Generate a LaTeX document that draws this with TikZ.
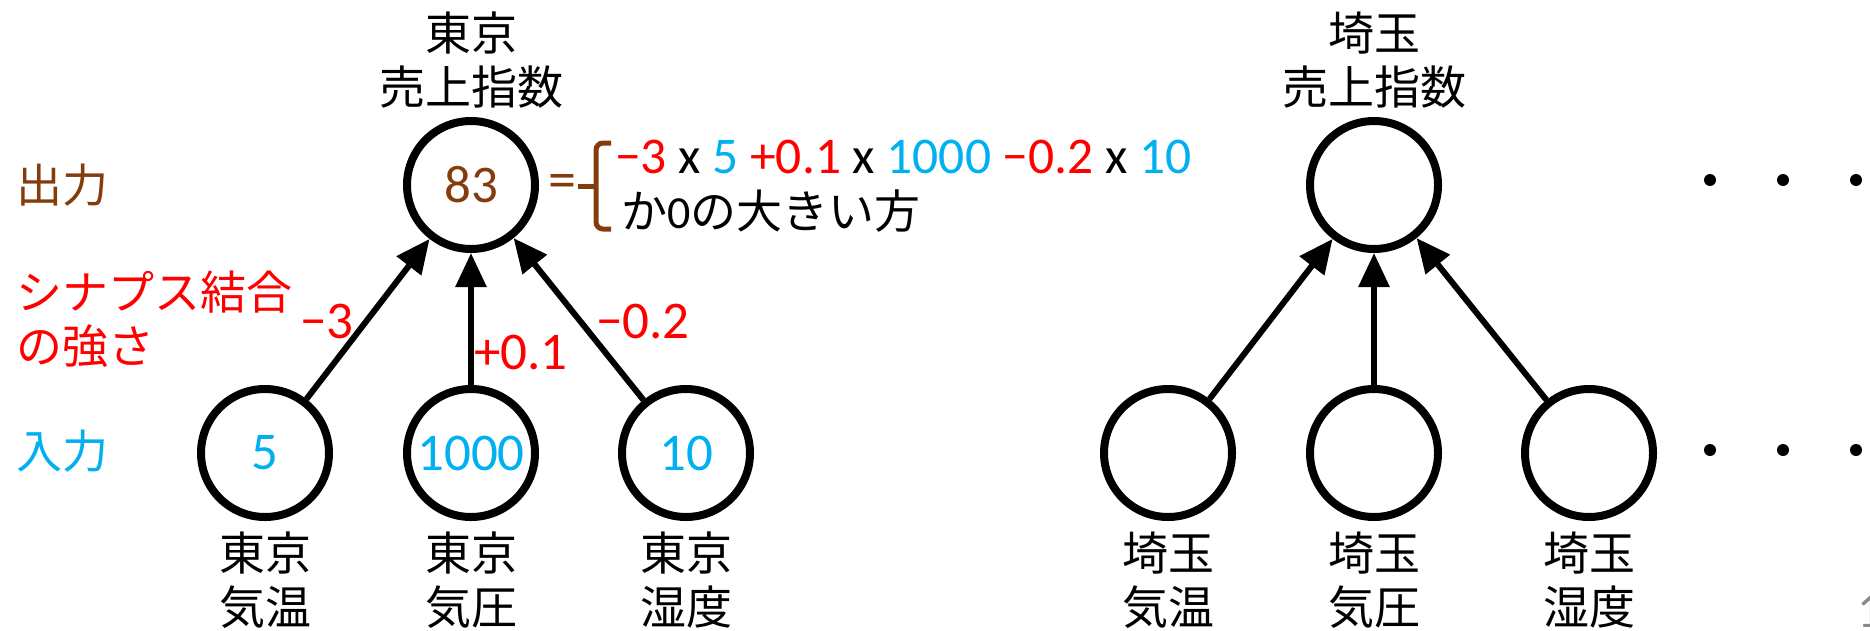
\documentclass[tikz,border=0pt]{standalone}
\usepackage{fontspec}
\setmainfont{Carlito}
\newfontfamily\jp{Noto Sans CJK JP}
\usetikzlibrary{arrows.meta}
\definecolor{brn}{RGB}{132,60,12}
\definecolor{cyn}{RGB}{0,176,240}
\definecolor{rd}{RGB}{255,0,0}
\definecolor{pgnum}{RGB}{137,137,137}
\begin{document}
\begin{tikzpicture}[x=1pt,y=-1pt,
  neuron/.style={circle,draw,line width=8pt,minimum size=128pt,inner sep=0pt,font=\fontsize{53}{60}\selectfont},
  syn/.style={line width=6pt,-{Triangle[length=34pt,width=30pt]}},
  jlab/.style={font=\jp\fontsize{46}{54}\selectfont,align=center,inner sep=0pt},
  wlab/.style={text=rd,font=\fontsize{53}{60}\selectfont,inner sep=0pt},
  eqtxt/.style={font=\fontsize{51.5}{60}\selectfont,inner sep=0pt},
  bracestyle/.style={draw=brn,line width=5pt,rounded corners=7pt},
  dotnode/.style={circle,fill=black,inner sep=0pt,minimum size=12pt}]
\useasboundingbox (0,0) rectangle (1870,630);
\clip (0,0) rectangle (1870,630);

% ---- Tokyo group ----
\node[neuron,text=brn] (t0) at (471,185) {83};
\node[neuron,text=cyn] (a1) at (265,453) {5};
\node[neuron,text=cyn] (a2) at (471,453) {1000};
\node[neuron,text=cyn] (a3) at (686,453) {10};
\draw[syn] (a1) -- (t0);
\draw[syn] (a2) -- (t0);
\draw[syn] (a3) -- (t0);

\node[jlab] (t0lab) at (471,60) {東京\\売上指数};
\node[jlab] (a1lab) at (265,580) {東京\\気温};
\node[jlab] (a2lab) at (471,580) {東京\\気圧};
\node[jlab] (a3lab) at (686,580) {東京\\湿度};

\node[wlab] (w1) at (327,321) {−3};
\node[wlab] (w2) at (521,353) {+0.1};
\node[wlab] (w3) at (643,322) {−0.2};

% ---- left legend ----
\node[jlab,text=brn,anchor=west] (outlab) at (16,185) {出力};
\node[jlab,text=rd,anchor=west,align=left] (synlab) at (16,319) {シナプス結合\\の強さ};
\node[jlab,text=cyn,anchor=west] (inlab) at (16,451) {入力};

% ---- formula ----
\node[font=\fontsize{56}{60}\selectfont,inner sep=0pt,text=brn] (eq) at (562,186) {=};
\coordinate (bt) at (611,143);
\coordinate (bb) at (611,229);
\coordinate (bn) at (578,186);
\draw[bracestyle] (bt) -- (596,143) -- (596,229) -- (bb);
\draw[draw=brn,line width=5pt] (596,186) -- (bn);
\node[eqtxt,anchor=base west] (f1) at (615,173) {\textcolor{rd}{−3} x \textcolor{cyn}{5} \textcolor{rd}{+0.1} x \textcolor{cyn}{1000} \textcolor{rd}{−0.2} x \textcolor{cyn}{10}};
\node[anchor=base west,inner sep=0pt,font=\fontsize{46}{54}\selectfont] (f2) at (621,228) {{\jp か}0{\jp の大きい方}};

% ---- Saitama group ----
\node[neuron] (t1) at (1374,185) {};
\node[neuron] (b1) at (1168,453) {};
\node[neuron] (b2) at (1374,453) {};
\node[neuron] (b3) at (1589,453) {};
\draw[syn] (b1) -- (t1);
\draw[syn] (b2) -- (t1);
\draw[syn] (b3) -- (t1);

\node[jlab] (t1lab) at (1374,60) {埼玉\\売上指数};
\node[jlab] (b1lab) at (1168,580) {埼玉\\気温};
\node[jlab] (b2lab) at (1374,580) {埼玉\\気圧};
\node[jlab] (b3lab) at (1589,580) {埼玉\\湿度};

% ---- dots ----
\node[dotnode] (d1) at (1710,180) {};
\node[dotnode] (d2) at (1783,180) {};
\node[dotnode] (d3) at (1856,180) {};
\node[dotnode] (d4) at (1710,450) {};
\node[dotnode] (d5) at (1783,450) {};
\node[dotnode] (d6) at (1856,450) {};

% ---- page number (cut off) ----
\node[anchor=base west,text=pgnum,inner sep=0pt,font=\fontsize{50}{60}\selectfont] (pg) at (1857,627) {1};
\end{tikzpicture}
\end{document}
